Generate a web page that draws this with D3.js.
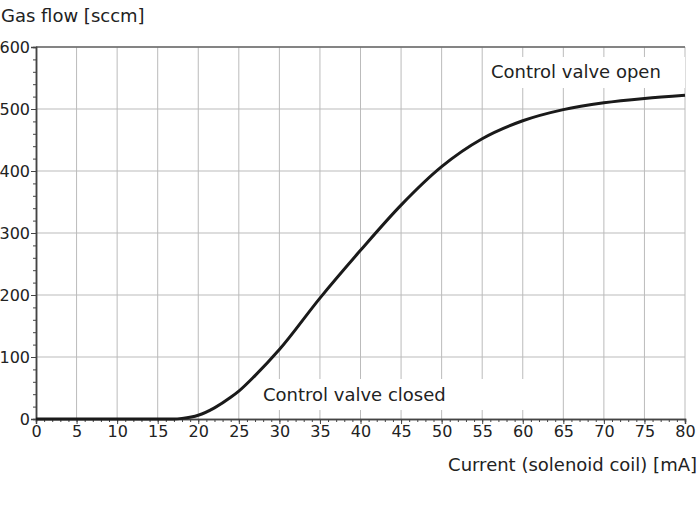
<!DOCTYPE html>
<html><head><meta charset="utf-8">
<script src="https://cdn.jsdelivr.net/npm/d3@7"></script>
<style>body{margin:0;background:#fff}text{font-family:"DejaVu Sans",sans-serif}</style>
</head><body><svg id="c" width="698" height="506"></svg>
<script>
var currentMA = [0, 10, 17, 18, 20, 22, 24, 25, 27, 30, 35, 40, 45, 50, 55, 60, 65, 70, 75, 80];
var flowSccm  = [0, 0, 0, 1, 6, 18, 35, 45, 70, 112, 195, 272, 345, 407, 452, 481, 499, 510, 517, 522];
var xTicks = d3.range(0, 81, 5);
var yTicks = d3.range(0, 601, 100);

var svg = d3.select('#c');
var x = d3.scaleLinear().domain([0, 80]).range([36, 685]);
var y = d3.scaleLinear().domain([0, 600]).range([419, 47]);
var grid = '#bbb';

svg.selectAll('.vg').data(xTicks.slice(1)).enter().append('line')
  .attr('x1', d => x(d)).attr('x2', d => x(d)).attr('y1', y(600)).attr('y2', y(0))
  .style('stroke', grid).style('stroke-width', 1);
svg.selectAll('.hg').data(yTicks.slice(1)).enter().append('line')
  .attr('x1', x(0)).attr('x2', x(80)).attr('y1', d => y(d)).attr('y2', d => y(d))
  .style('stroke', grid).style('stroke-width', 1);
svg.append('line').attr('x1', x(0)).attr('x2', x(80)).attr('y1', y(600)).attr('y2', y(600))
  .style('stroke', '#666').style('stroke-width', 1.5);

svg.append('g').attr('transform', 'translate(0,' + y(0) + ')')
  .call(d3.axisBottom(x).tickValues(xTicks).tickSize(5).tickPadding(2));
svg.append('g').attr('transform', 'translate(0,' + y(0) + ')')
  .call(d3.axisBottom(x).tickValues(d3.range(0, 81, 1)).tickSize(3).tickFormat(''));
svg.append('g').attr('transform', 'translate(' + x(0) + ',0)')
  .call(d3.axisLeft(y).tickValues(yTicks).tickSize(5).tickPadding(1));
svg.append('g').attr('transform', 'translate(' + x(0) + ',0)')
  .call(d3.axisLeft(y).tickValues(d3.range(0, 601, 20)).tickSize(3).tickFormat(''));
svg.selectAll('.domain').style('stroke', '#444').style('stroke-width', 1.5);
svg.selectAll('.tick line').style('stroke', '#444');
svg.selectAll('.tick text').style('font-size', '16px').style('fill', '#222').style('font-family', '"DejaVu Sans",sans-serif');

var line = d3.line().x((d, i) => x(currentMA[i])).y(d => y(d)).curve(d3.curveMonotoneX);
svg.append('path').datum(flowSccm).attr('d', line)
  .style('fill', 'none').style('stroke', '#1a1a1a').style('stroke-width', 3);

svg.append('rect').attr('x', 485).attr('y', 57).attr('width', 200).attr('height', 31).style('fill', '#fff');
svg.append('text').attr('x', 491).attr('y', 78).text('Control valve open').style('font-size', '18px').style('fill', '#222');
svg.append('rect').attr('x', 257).attr('y', 379).attr('width', 272).attr('height', 31).style('fill', '#fff');
svg.append('text').attr('x', 263).attr('y', 401).text('Control valve closed').style('font-size', '18px').style('fill', '#222');

svg.append('text').attr('x', 1).attr('y', 22).text('Gas flow [sccm]').style('font-size', '18px').style('fill', '#222');
svg.append('text').attr('x', 697).attr('y', 471).attr('text-anchor', 'end')
  .text('Current (solenoid coil) [mA]').style('font-size', '18px').style('fill', '#222');
</script></body></html>
